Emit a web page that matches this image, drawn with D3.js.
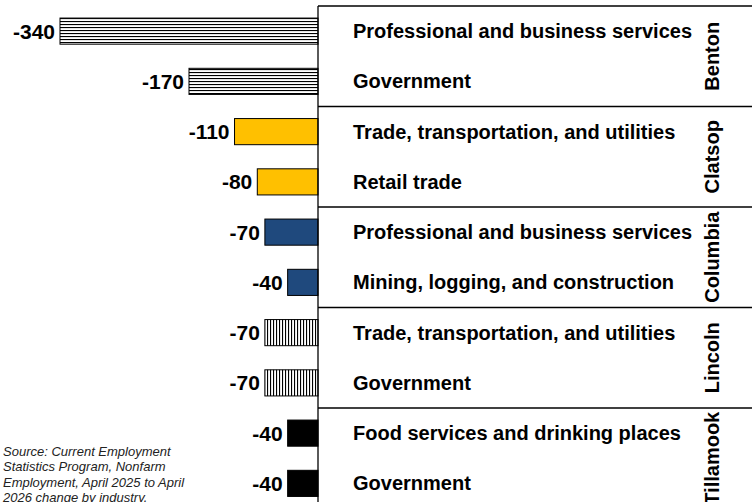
<!DOCTYPE html>
<html>
<head>
<meta charset="utf-8">
<script src="https://cdn.jsdelivr.net/npm/d3@7"></script>
<style>
  html, body { margin: 0; padding: 0; background: #fff; }
  svg { display: block; font-family: "Liberation Sans", Arial, sans-serif; }
</style>
</head>
<body>
<div id="chart"></div>
<script>
const counties = ['Benton', 'Clatsop', 'Columbia', 'Lincoln', 'Tillamook'];
const industries = [
  'Professional and business services', 'Government',
  'Trade, transportation, and utilities', 'Retail trade',
  'Professional and business services', 'Mining, logging, and construction',
  'Trade, transportation, and utilities', 'Government',
  'Food services and drinking places', 'Government'
];
const rowCounty = ['Benton', 'Benton', 'Clatsop', 'Clatsop', 'Columbia', 'Columbia',
  'Lincoln', 'Lincoln', 'Tillamook', 'Tillamook'];
const changes = [-340, -170, -110, -80, -70, -40, -70, -70, -40, -40];
const sourceLines = ['Source: Current Employment', 'Statistics Program, Nonfarm',
  'Employment, April 2025 to April', '2026 change by industry.'];

const width = 752, height = 502;
const rows = industries.map((name, i) => ({ i, name, county: rowCounty[i], value: changes[i] }));

const svg = d3.select('#chart').append('svg').attr('width', width).attr('height', height);

const defs = svg.append('defs');
const hp = defs.append('pattern').attr('id', 'hstripe').attr('patternUnits', 'userSpaceOnUse')
  .attr('width', 6).attr('height', 3);
hp.append('rect').attr('width', 6).attr('height', 3).attr('fill', '#fff');
hp.append('rect').attr('width', 6).attr('height', 1.1).attr('fill', '#000');
const vp = defs.append('pattern').attr('id', 'vstripe').attr('patternUnits', 'userSpaceOnUse')
  .attr('width', 3).attr('height', 6);
vp.append('rect').attr('width', 3).attr('height', 6).attr('fill', '#fff');
vp.append('rect').attr('width', 1.1).attr('height', 6).attr('fill', '#000');

const fills = {
  Benton: 'url(#hstripe)', Clatsop: '#FFC000', Columbia: '#1F497D',
  Lincoln: 'url(#vstripe)', Tillamook: '#000'
};

const x = d3.scaleLinear().domain([-340, 0]).range([60, 318]);
const y = d3.scaleBand().domain(d3.range(rows.length)).range([6, 508.5])
  .paddingInner(0.48).paddingOuter(0.24);
const yc = d3.scaleBand().domain(counties).range([6, 508.5]);

// bars
svg.append('g').selectAll('rect').data(rows).join('rect')
  .attr('x', d => x(d.value)).attr('y', d => y(d.i))
  .attr('width', d => x(0) - x(d.value)).attr('height', y.bandwidth())
  .attr('fill', d => fills[d.county])
  .attr('stroke', '#000').attr('stroke-width', 1);

// value labels
svg.append('g').selectAll('text').data(rows).join('text')
  .attr('x', d => x(d.value) - 5).attr('y', d => y(d.i) + y.bandwidth() / 2)
  .attr('text-anchor', 'end').attr('dominant-baseline', 'central')
  .attr('font-size', 21).attr('font-weight', 'bold').attr('fill', '#000')
  .text(d => d.value);

// industry labels
svg.append('g').selectAll('text').data(rows).join('text')
  .attr('x', 353).attr('y', d => y(d.i) + y.bandwidth() / 2)
  .attr('dominant-baseline', 'central')
  .attr('font-size', 20).attr('font-weight', 'bold').attr('fill', '#000')
  .text(d => d.name);

// group frame
const frame = svg.append('g').attr('stroke', '#000').attr('stroke-width', 1.3);
frame.append('line').attr('x1', x(0)).attr('x2', x(0)).attr('y1', yc.range()[0]).attr('y2', height);
frame.selectAll('line.sep').data(counties).join('line').attr('class', 'sep')
  .attr('x1', x(0)).attr('x2', width)
  .attr('y1', d => yc(d)).attr('y2', d => yc(d));

// county labels
svg.append('g').selectAll('text').data(counties).join('text')
  .attr('transform', d => `translate(712,${yc(d) + yc.bandwidth() / 2}) rotate(-90)`)
  .attr('text-anchor', 'middle').attr('dominant-baseline', 'central')
  .attr('font-size', 20).attr('font-weight', 'bold').attr('fill', '#000')
  .text(d => d);

// source note
svg.append('g').selectAll('text').data(sourceLines).join('text')
  .attr('x', 3).attr('y', (d, i) => 455.5 + i * 15.6)
  .attr('font-size', 13).attr('font-style', 'italic').attr('fill', '#222')
  .text(d => d);
</script>
</body>
</html>
